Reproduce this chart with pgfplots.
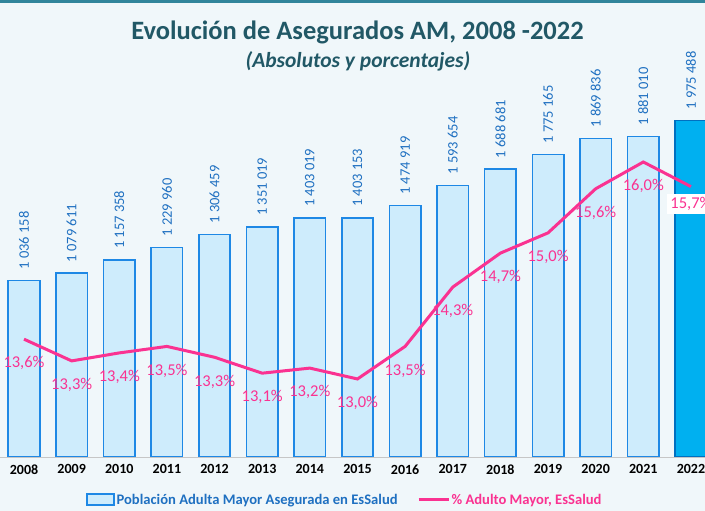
\documentclass[border=0pt]{standalone}
\usepackage{pgfplots}
\pgfplotsset{compat=1.18}
\usepackage{pgfplotstable}
\usepackage{fontspec}
\setmainfont{Carlito}

\definecolor{bgc}{RGB}{240,247,250}
\definecolor{topline}{RGB}{49,133,155}
\definecolor{titlec}{RGB}{33,88,102}
\definecolor{barfill}{RGB}{206,236,252}
\definecolor{barline}{RGB}{30,136,229}
\definecolor{lastfill}{RGB}{0,176,240}
\definecolor{lastline}{RGB}{0,112,192}
\definecolor{vallab}{RGB}{31,112,193}
\definecolor{pinkc}{RGB}{250,50,145}

\pgfplotstableread[col sep=semicolon, row sep=\\]{
x;val;vlab;pct;plab\\
0;1036158;1 036 158;13.55;13,6\\
1;1079611;1 079 611;13.25;13,3\\
2;1157358;1 157 358;13.36;13,4\\
3;1229960;1 229 960;13.45;13,5\\
4;1306459;1 306 459;13.30;13,3\\
5;1351019;1 351 019;13.08;13,1\\
6;1403019;1 403 019;13.15;13,2\\
7;1403153;1 403 153;13.00;13,0\\
8;1474919;1 474 919;13.45;13,5\\
9;1593654;1 593 654;14.27;14,3\\
10;1688681;1 688 681;14.74;14,7\\
11;1775165;1 775 165;15.02;15,0\\
12;1869836;1 869 836;15.63;15,6\\
13;1881010;1 881 010;16.00;16,0\\
14;1975488;1 975 488;15.66;15,7\\
}\data

\begin{document}
\begin{tikzpicture}[x=1pt,y=1pt]
\useasboundingbox (0,0) rectangle (705,511);
\clip (0,0) rectangle (705,511);
\fill[bgc] (0,0) rectangle (705,511);
\fill[topline] (0,508) rectangle (705,511);
\node[font=\bfseries\fontsize{26.5}{30}\selectfont, text=titlec] at (357.5,479) {Evolución de Asegurados AM, 2008 -2022};
\node[font=\bfseries\itshape\fontsize{21.5}{24}\selectfont, text=titlec] at (358,450) {(Absolutos y porcentajes)};

\begin{axis}[
  at={(0pt,54pt)}, anchor=south west,
  scale only axis, width=705pt, height=357pt,
  xmin=-0.504, xmax=14.295, ymin=0, ymax=2095000,
  ybar, bar width=0.66, /pgf/bar shift=0pt,
  axis y line=none, axis x line*=bottom,
  x axis line style={-, draw=gray!45, line width=0.8pt},
  xtick={0,...,14},
  xticklabels={2008,2009,2010,2011,2012,2013,2014,2015,2016,2017,2018,2019,2020,2021,2022},
  major tick length=0pt,
  xticklabel style={font=\bfseries\fontsize{14}{14}\selectfont, text=black, yshift=-4pt},
  /pgf/number format/assume math mode=true,
  point meta=explicit symbolic,
  nodes near coords={\pgfplotspointmeta},
  every node near coord/.append style={rotate=90, anchor=west, inner xsep=11pt, outer sep=0pt, text=vallab, font=\fontsize{14.5}{16}\selectfont},
  legend style={at={(0.489,-0.120)}, anchor=center, draw=none, fill=none, legend columns=2,
    font=\bfseries\fontsize{14.6}{16}\selectfont,
    /tikz/every even column/.append style={column sep=18pt},
    /tikz/every odd column/.append style={column sep=0pt},
    /tikz/every node/.append style={inner xsep=1.5pt}},
]
\addplot[fill=barfill, draw=barline, line width=1.6pt,
  legend image code/.code={\draw[fill=barfill, draw=barline, line width=1.6pt] (0pt,-5pt) rectangle (27pt,6pt);},
  skip coords between index={14}{15}]
  table[x=x, y=val, meta=vlab] {\data};
\addlegendentry{\textcolor{vallab}{Población Adulta Mayor Asegurada en EsSalud}}
\addplot[fill=lastfill, draw=lastline, line width=1.6pt, forget plot,
  skip coords between index={0}{14}]
  table[x=x, y=val, meta=vlab] {\data};
\addlegendimage{pinkc, line width=3pt, legend image code/.code={\draw[pinkc, line width=3pt] (0pt,0pt) -- (30pt,0pt);}}
\addlegendentry{\textcolor{pinkc}{\% Adulto Mayor, EsSalud}}
\end{axis}

\begin{axis}[
  at={(0pt,54pt)}, anchor=south west,
  scale only axis, width=705pt, height=357pt,
  xmin=-0.504, xmax=14.295, ymin=11.921, ymax=16.8575,
  hide axis, clip=false,
  point meta=explicit symbolic,
]
\addplot[pinkc, line width=3pt, mark=none] table[x=x, y=pct] {\data};
\addplot[draw=none, mark=none, nodes near coords={\pgfplotspointmeta\%},
  every node near coord/.append style={anchor=north, yshift=-14pt, text=pinkc, font=\fontsize{16.5}{18}\selectfont},
  skip coords between index={14}{15}]
  table[x=x, y=pct, meta=plab] {\data};
\addplot[draw=none, mark=none, nodes near coords={\pgfplotspointmeta\%},
  every node near coord/.append style={anchor=north, yshift=-7pt, text=pinkc, fill=white, font=\fontsize{16.5}{18}\selectfont},
  skip coords between index={0}{14}]
  table[x=x, y=pct, meta=plab] {\data};
\end{axis}
\end{tikzpicture}
\end{document}
